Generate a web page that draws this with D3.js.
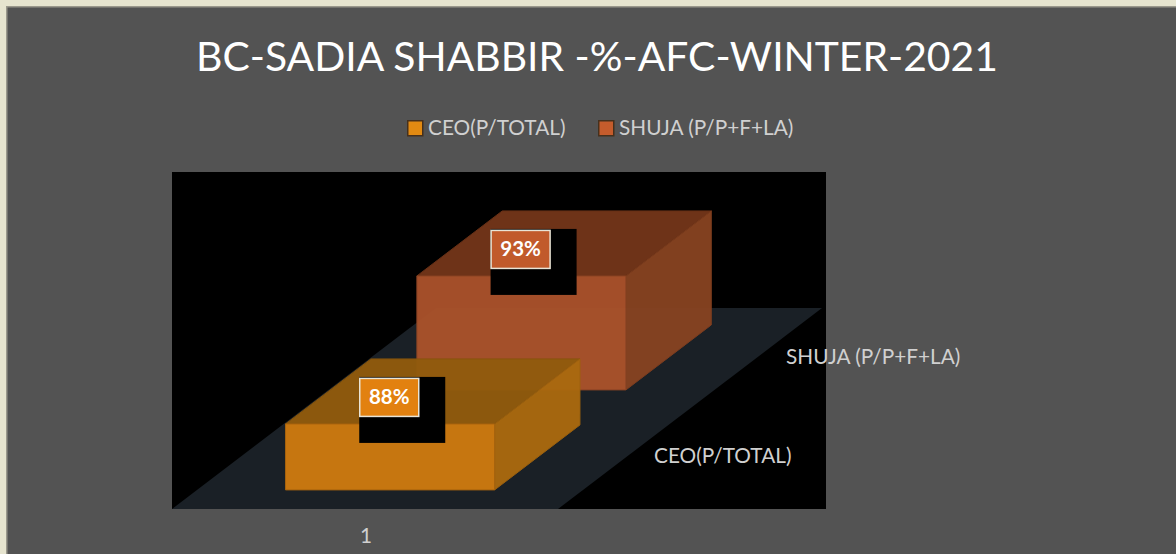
<!DOCTYPE html>
<html>
<head>
<meta charset="utf-8">
<script src="https://cdn.jsdelivr.net/npm/d3@7/dist/d3.min.js"></script>
<style>
html,body{margin:0;padding:0;background:#e6e4cf;overflow:hidden}
text{font-family:Lato,"Open Sans",sans-serif}
</style>
</head>
<body>
<svg id="chart" width="1176" height="554"></svg>
<script>
const chartTitle = "BC-SADIA SHABBIR -%-AFC-WINTER-2021";
const categories = ["1"];
const seriesNames = ["CEO(P/TOTAL)", "SHUJA (P/P+F+LA)"];
const seriesValues = [0.88, 0.93];
const valueLabels = ["88%", "93%"];
const frontColors = ["#ce7a10", "#aa522b"];
const sideColors = ["#aa690f", "#874321"];
const topColors = ["#915b0d", "#733619"];
const labelColors = ["#e28110", "#c15a2b"];
const legendSwatches = ["#e28a12", "#c55c2c"];

const svg = d3.select("#chart");
svg.append("rect").attr("width",1176).attr("height",554).attr("fill","#e6e4cf");
svg.append("rect").attr("x",6).attr("y",6).attr("width",1170).attr("height",548).attr("fill","#9a988c");
svg.append("rect").attr("x",7.5).attr("y",7.5).attr("width",1169).attr("height",547).attr("fill","#535353");

// Plot area and the oblique projection of the 3D chart box
const plot = {x:172, y:172, w:654, h:337};
const floorW = 386, depthDX = 264, depthDY = -201;
svg.append("rect").attr("x",plot.x).attr("y",plot.y).attr("width",plot.w).attr("height",plot.h).attr("fill","#000");

const xBand = d3.scaleBand().domain(categories).range([0,floorW]).paddingInner(0.2973).paddingOuter(0.2973);
const depthBand = d3.scaleBand().domain(seriesNames).range([0,1]).paddingInner(0.35).paddingOuter(0.18).align(0.53);
const heightScale = d3.scaleLinear().domain([0.81125,0.93]).range([0,114]);
const floorOrigin = {x:plot.x, y:plot.y+plot.h};
const project = (x,d,h) => [floorOrigin.x + x + depthDX*d, floorOrigin.y + depthDY*d - h];
const poly = pts => pts.map(p=>p.join(",")).join(" ");

svg.append("polygon")
  .attr("points", poly([project(0,0,0),project(floorW,0,0),project(floorW,1,0),project(0,1,0)]))
  .attr("fill","#1a2026");

// Bars, back series first
const order = d3.range(seriesNames.length).reverse();
order.forEach(i=>{
  const x0 = xBand(categories[0]), x1 = x0 + xBand.bandwidth();
  const d0 = depthBand(seriesNames[i]), d1 = d0 + depthBand.bandwidth();
  const h = heightScale(seriesValues[i]);
  const g = svg.append("g").attr("opacity",0.96);
  g.append("polygon").attr("points",poly([project(x0,d0,h),project(x1,d0,h),project(x1,d1,h),project(x0,d1,h)]))
    .attr("fill",topColors[i]).attr("stroke",d3.color(topColors[i]).darker(0.2)).attr("stroke-width",1);
  g.append("polygon").attr("points",poly([project(x1,d0,0),project(x1,d1,0),project(x1,d1,h),project(x1,d0,h)]))
    .attr("fill",sideColors[i]).attr("stroke",d3.color(sideColors[i]).darker(0.2)).attr("stroke-width",1);
  g.append("polygon").attr("points",poly([project(x0,d0,0),project(x1,d0,0),project(x1,d0,h),project(x0,d0,h)]))
    .attr("fill",frontColors[i]).attr("stroke",d3.color(frontColors[i]).darker(0.5)).attr("stroke-width",1);
});

// Data labels with their black backing box
seriesNames.forEach((s,i)=>{
  const xc = xBand(categories[0]) + xBand.bandwidth()/2;
  const dc = depthBand(s) + depthBand.bandwidth()/2;
  const [ax,ay] = project(xc,dc,heightScale(seriesValues[i]));
  const bx = ax-73.5, by = ay-14.5;
  svg.append("rect").attr("x",bx).attr("y",by).attr("width",86).attr("height",66).attr("fill","#000");
  svg.append("rect").attr("x",bx+0.5).attr("y",by+1.5).attr("width",59).attr("height",38)
    .attr("fill",labelColors[i]).attr("stroke","#e9e4d6").attr("stroke-width",1.5);
  svg.append("text").attr("x",bx+30).attr("y",by+27).attr("text-anchor","middle")
    .attr("font-size",20.5).attr("font-weight",700).attr("fill","#fff").text(valueLabels[i]);
});

// Title
svg.append("text").attr("x",597).attr("y",71).attr("text-anchor","middle")
  .attr("font-size",40.85).attr("fill","#fff").text(chartTitle);

// Legend
const legendX = [407,598];
seriesNames.forEach((s,i)=>{
  svg.append("rect").attr("x",legendX[i]+0.75).attr("y",120.75).attr("width",15).attr("height",15)
    .attr("fill",legendSwatches[i]).attr("stroke","#46301c").attr("stroke-width",1.5);
  svg.append("text").attr("x",legendX[i]+21).attr("y",134.5)
    .attr("font-size",20.8).attr("fill","#d0d0d0").text(s);
});

// Series-axis labels and category label
const seriesLabelPos = [[654,463],[786,364]];
seriesNames.forEach((s,i)=>{
  svg.append("text").attr("x",seriesLabelPos[i][0]).attr("y",seriesLabelPos[i][1])
    .attr("font-size",20.8).attr("fill","#d0d0d0").text(s);
});
svg.append("text").attr("x",plot.x+xBand(categories[0])+xBand.bandwidth()/2+1).attr("y",543).attr("text-anchor","middle")
  .attr("font-size",20.8).attr("fill","#d0d0d0").text(categories[0]);
</script>
</body>
</html>
